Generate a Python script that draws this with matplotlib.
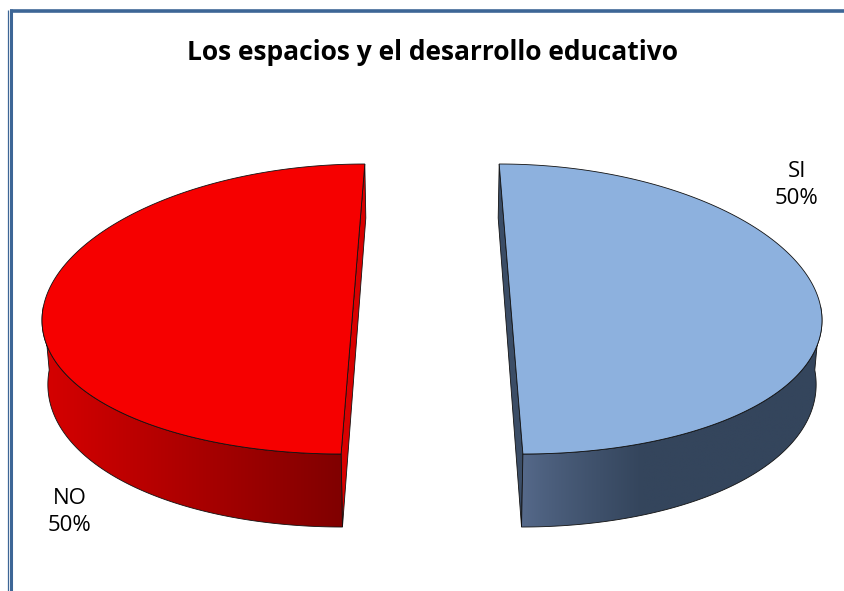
import numpy as np
import matplotlib
matplotlib.use("Agg")
import matplotlib.pyplot as plt
from matplotlib.patches import Polygon
from matplotlib.colors import to_rgb

# ---- data ----
title = "Los espacios y el desarrollo educativo"
categories = ["SI", "NO"]
values = [50, 50]
top_colors = ["#8db1de", "#f60000"]
cut_colors = ["#3b4d66", "#d80000"]
wall_left = ["#566a8b", "#d60000"]
wall_right = ["#34455c", "#800000"]

W, H = 845, 591
fig = plt.figure(figsize=(W / 100, H / 100), dpi=100)
ax = fig.add_axes([0, 0, 1, 1])

# ---- 3D pie geometry (screen pixels) ----
cx, cy = 432.0, 309.0
R, B = 310.0, 145.0
explode = 0.255
k_exp = 0.15     # perspective on explode offset / thickness
k_disk = 0.04    # perspective on disk width
T0 = 63.5        # thickness
bottom_shrink = 0.985


def proj(theta, mid, z):
    """theta, mid in radians, z: 0 top, 1 bottom"""
    v = np.sin(theta) + explode * np.sin(mid)
    x_off = R * (explode * np.cos(mid) * (1 - k_exp * v) + np.cos(theta) * (1 - k_disk * v))
    if z:
        x_off = x_off * bottom_shrink
    x = cx + x_off
    y = cy - B * v + z * T0 * (1 - k_exp * v)
    return x, y


total = sum(values)
start = 90.0
edge = dict(edgecolor="#111111", linewidth=0.6)
for i, (cat, val) in enumerate(zip(categories, values)):
    a0 = np.deg2rad(start)
    a1 = np.deg2rad(start - 360.0 * val / total)
    start = start - 360.0 * val / total
    mid = (a0 + a1) / 2
    th = np.linspace(a0, a1, 300)

    # cut face (diameter side)
    p_top0 = proj(a0, mid, 0); p_top1 = proj(a1, mid, 0)
    p_bot0 = proj(a0, mid, 1); p_bot1 = proj(a1, mid, 1)
    ax.add_patch(Polygon([p_top0, p_top1, p_bot1, p_bot0], closed=True,
                         facecolor=cut_colors[i], **edge, zorder=2))

    # outer front wall with horizontal gradient
    sel = th[np.sin(th) <= 0.02]
    xt, yt = proj(sel, mid, 0)
    xb, yb = proj(sel, mid, 1)
    outline = np.concatenate([np.column_stack([xt, yt]),
                              np.column_stack([xb, yb])[::-1]])
    xmin, xmax = outline[:, 0].min(), outline[:, 0].max()
    ymin, ymax = outline[:, 1].min(), outline[:, 1].max()
    cL, cR = np.array(to_rgb(wall_left[i])), np.array(to_rgb(wall_right[i]))
    f = np.linspace(0, 1, 256)
    if i == 0:
        f = np.minimum(1.0, f / 0.4) ** 0.8
    grad = (cL[None, :] + (cR - cL)[None, :] * f[:, None])[None, :, :]
    wall = Polygon(outline, closed=True, facecolor="none", **edge, zorder=3)
    ax.add_patch(wall)
    im = ax.imshow(grad, extent=(xmin, xmax, ymax, ymin), aspect="auto",
                   interpolation="bilinear", zorder=2.5)
    im.set_clip_path(wall)

    # top face
    xt, yt = proj(th, mid, 0)
    ax.add_patch(Polygon(np.column_stack([xt, yt]), closed=True,
                         facecolor=top_colors[i], **edge, zorder=4))

# ---- labels ----
font = "Open Sans"
lbl_pos = {"SI": (797, 185), "NO": (70, 512)}
for cat, val in zip(categories, values):
    x, y = lbl_pos[cat]
    ax.text(x, y, f"{cat}\n{val / total:.0%}", ha="center", va="center",
            fontsize=16, family=font, color="black", linespacing=1.42, zorder=5)

ax.text(433, 52, title, ha="center", va="center", fontsize=19,
        fontweight="bold", family=font, color="black", zorder=5)

# ---- frame ----
frame_col = "#3d6696"
ax.plot([8.5, 8.5], [10, H], color=frame_col, lw=0.9, solid_capstyle="butt")
ax.plot([11.5, 11.5], [9, H], color=frame_col, lw=2.2, solid_capstyle="butt")
ax.plot([10.5, W], [10.5, 10.5], color=frame_col, lw=2.6, solid_capstyle="butt")

ax.set_xlim(0, W)
ax.set_ylim(H, 0)
ax.axis("off")
fig.savefig("out.png", dpi=100)
